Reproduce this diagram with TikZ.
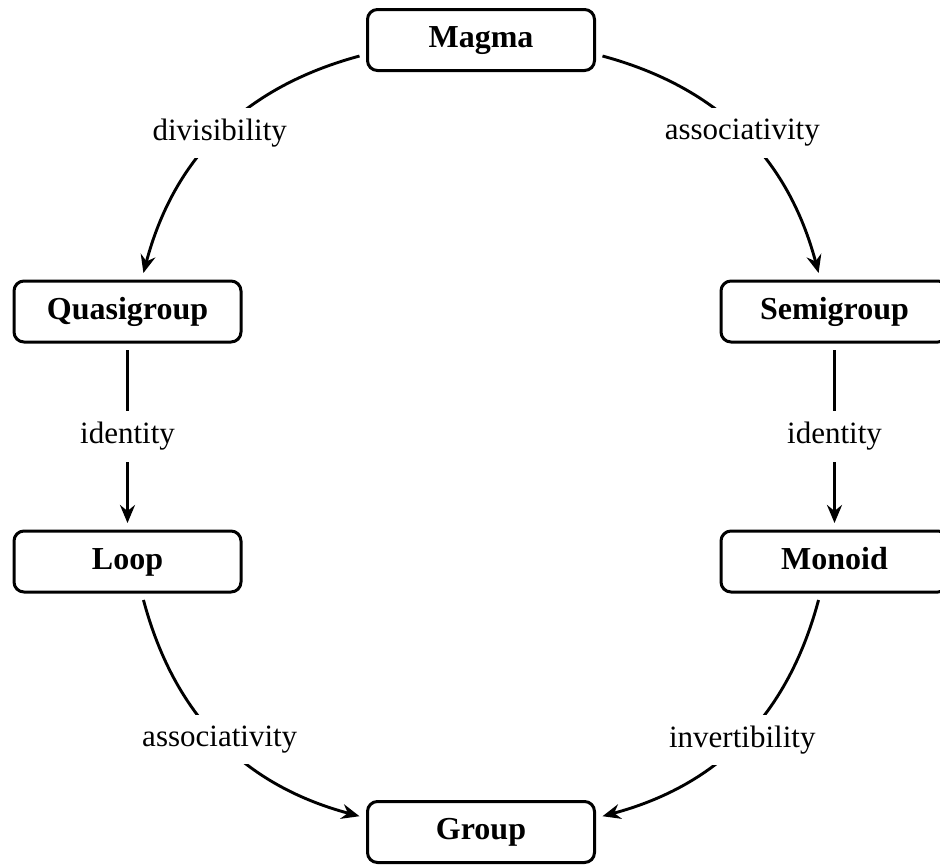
\documentclass[tikz,border=0pt]{standalone}
\usepackage{fontspec}
\setmainfont{Liberation Serif}
\usetikzlibrary{arrows.meta}
\begin{document}
\begin{tikzpicture}[x=1pt,y=1pt,
  box/.style={draw, line width=3pt, rounded corners=10pt, minimum width=227pt, minimum height=61pt, outer sep=8pt, inner sep=0pt, text height=22pt, text depth=7pt, font=\fontsize{32}{38}\selectfont\bfseries},
  lbl/.style={fill=white, inner sep=11pt, font=\fontsize{31}{37}\selectfont},
  conn/.style={line width=2.9pt, -{Stealth[length=18pt,width=15pt,inset=6pt]}}]
\useasboundingbox (0,-865) rectangle (940,0);
\node[box] (magma) at (481,-40) {Magma};
\node[box] (quasi) at (127.5,-311.5) {Quasigroup};
\node[box] (semi) at (834.5,-311.5) {Semigroup};
\node[box] (loop) at (127.5,-561.5) {Loop};
\node[box] (monoid) at (834.5,-561.5) {Monoid};
\node[box] (group) at (481,-832) {Group};
\draw[conn] (magma) to[bend right=30] node[lbl] {divisibility} (quasi);
\draw[conn] (magma) to[bend left=30] node[lbl] {associativity} (semi);
\draw[conn] (quasi) -- node[lbl] {identity} (loop);
\draw[conn] (semi) -- node[lbl] {identity} (monoid);
\draw[conn] (loop) to[bend right=30] node[lbl] {associativity} (group);
\draw[conn] (monoid) to[bend left=30] node[lbl] {invertibility} (group);
\end{tikzpicture}
\end{document}
